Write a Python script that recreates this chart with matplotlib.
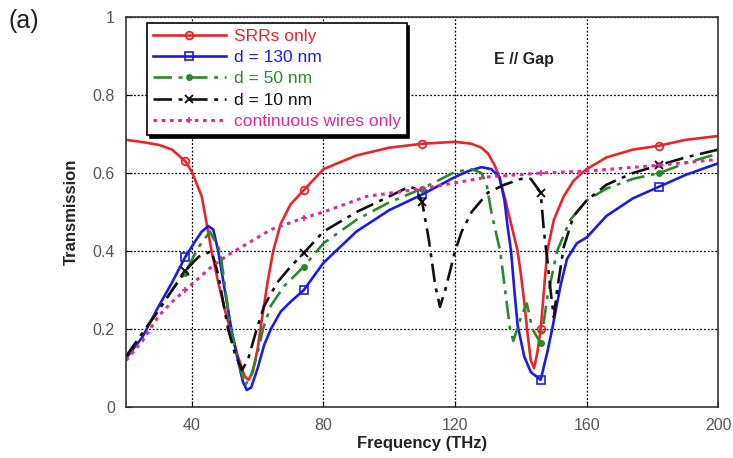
import numpy as np
import matplotlib
matplotlib.use("Agg")
import matplotlib.pyplot as plt

plt.rcParams["font.family"] = ["Liberation Sans", "DejaVu Sans"]

# Values (frequency in THz, transmission)
f_srr = [20, 26, 30, 34, 38, 40, 43, 46, 48, 50, 51.6, 54, 56, 57.2, 58.5, 60, 61, 63, 64.7, 67, 70, 74,
         80, 90, 100, 110, 120, 125, 128, 130, 132, 133, 135, 137, 139, 140, 141, 142, 143, 144, 145, 146,
         147, 148, 150, 153, 156, 158.5, 160, 166, 174, 182, 190, 200]
t_srr = [0.685, 0.678, 0.672, 0.66, 0.63, 0.603, 0.54, 0.40, 0.32, 0.25, 0.20, 0.13, 0.08, 0.07, 0.09, 0.15,
         0.21, 0.32, 0.40, 0.47, 0.52, 0.556, 0.61, 0.645, 0.665, 0.675, 0.68, 0.675, 0.665, 0.65, 0.62, 0.60,
         0.54, 0.47, 0.40, 0.34, 0.27, 0.19, 0.12, 0.10, 0.14, 0.20, 0.30, 0.40, 0.48, 0.54, 0.58, 0.60, 0.61,
         0.64, 0.66, 0.67, 0.685, 0.695]

f_130 = [20, 25, 30, 34, 38, 41, 43, 45, 46.5, 48, 50, 52, 54, 55.5, 56.7, 58, 60, 62, 64, 67, 70, 74, 80,
         90, 100, 110, 120, 124, 128, 131, 133.5, 135, 136, 137, 138, 139, 141, 143, 146, 148, 149.5, 152,
         154, 157, 160, 166, 174, 182, 190, 200]
t_130 = [0.125, 0.18, 0.26, 0.32, 0.385, 0.425, 0.45, 0.464, 0.455, 0.40, 0.30, 0.20, 0.12, 0.065, 0.044,
         0.05, 0.10, 0.16, 0.20, 0.245, 0.27, 0.30, 0.37, 0.45, 0.505, 0.545, 0.59, 0.605, 0.615, 0.61, 0.59,
         0.53, 0.46, 0.40, 0.30, 0.21, 0.13, 0.09, 0.07, 0.14, 0.20, 0.31, 0.38, 0.42, 0.435, 0.49, 0.535,
         0.565, 0.595, 0.625]

f_50 = [20, 25, 30, 34, 38, 42, 45.5, 48.6, 51.8, 54, 56.2, 58, 60, 61.6, 64, 68, 74, 80, 90, 100, 110,
        120, 125, 128, 129.6, 131, 133.7, 136.7, 137.7, 140, 141.8, 143.5, 146, 148, 151, 155, 160, 166,
        174, 182, 190, 200]
t_50 = [0.13, 0.19, 0.25, 0.30, 0.345, 0.41, 0.45, 0.40, 0.20, 0.12, 0.056, 0.08, 0.14, 0.20, 0.26, 0.31,
        0.36, 0.42, 0.48, 0.525, 0.56, 0.603, 0.61, 0.60, 0.57, 0.50, 0.40, 0.20, 0.17, 0.23, 0.266, 0.20,
        0.164, 0.28, 0.40, 0.48, 0.53, 0.56, 0.585, 0.60, 0.625, 0.65]

f_10 = [20, 25, 30, 34, 38, 42, 46, 48, 51, 53, 55.2, 57, 59.7, 62, 66, 70, 74, 80, 90, 100, 106, 108,
        110, 112, 114, 115.4, 117, 120, 122, 125, 130, 135, 140, 143, 146, 147, 148, 149, 150, 151, 153,
        156, 160, 166, 174, 182, 190, 200]
t_10 = [0.13, 0.19, 0.25, 0.30, 0.35, 0.385, 0.40, 0.34, 0.20, 0.14, 0.095, 0.12, 0.20, 0.26, 0.32, 0.36,
        0.395, 0.45, 0.50, 0.54, 0.565, 0.56, 0.525, 0.43, 0.31, 0.257, 0.30, 0.40, 0.45, 0.50, 0.55, 0.57,
        0.585, 0.585, 0.55, 0.45, 0.38, 0.30, 0.23, 0.30, 0.41, 0.49, 0.53, 0.57, 0.60, 0.62, 0.64, 0.66]

f_wire = [20, 25, 30, 34, 38, 42, 46, 51, 56, 64, 74, 80, 93, 110, 120, 130, 146, 160, 182, 200]
t_wire = [0.12, 0.17, 0.235, 0.27, 0.30, 0.33, 0.36, 0.39, 0.415, 0.455, 0.485, 0.50, 0.54, 0.56, 0.575,
          0.59, 0.60, 0.605, 0.62, 0.635]

marker_f = [38, 74, 110, 146, 182]

labels = ["SRRs only", "d = 130 nm", "d = 50 nm", "d = 10 nm", "continuous wires only"]


def marks(f):
    return [i for i, v in enumerate(f) if v in marker_f]


fig = plt.figure(figsize=(7.33, 4.58), dpi=100)
ax = fig.add_axes([0.172, 0.111, 0.808, 0.852])

ax.plot(f_srr, t_srr, color="#e8262a", lw=1.9, ls="-", marker="o", ms=5.5, mfc="none", mew=1.3,
        markevery=marks(f_srr), label=labels[0])
ax.plot(f_130, t_130, color="#1c1ce0", lw=1.9, ls="-", marker="s", ms=5.5, mfc="none", mew=1.2,
        markevery=marks(f_130), label=labels[1])
ax.plot(f_50, t_50, color="#2a8a2a", lw=1.9, ls=(0, (7, 2.5, 1.5, 2.5)), marker="o", ms=4,
        markevery=marks(f_50), label=labels[2])
ax.plot(f_10, t_10, color="#111111", lw=1.9, ls=(0, (7, 2.5, 1.5, 2.5)), marker="x", ms=6, mew=1.4,
        markevery=marks(f_10), label=labels[3])
ax.plot(f_wire, t_wire, color="#e02a9a", lw=2.2, ls=(0, (1.2, 1.5)), marker="+", ms=5, mew=1.2,
        markevery=marks(f_wire), label=labels[4])

ax.set_xlim(20, 200)
ax.set_ylim(0, 1)
ax.set_xticks([40, 80, 120, 160, 200])
ax.set_yticks([0, 0.2, 0.4, 0.6, 0.8, 1])
ax.set_yticklabels(["0", "0.2", "0.4", "0.6", "0.8", "1"])
ax.tick_params(direction="in", labelsize=11.5, labelcolor="#555555", length=4, pad=8)
ax.grid(True, color="black", ls=(0, (1.5, 1.5)), lw=0.9)
for s in ax.spines.values():
    s.set_linewidth(1.2)
    s.set_color("#333333")

ax.set_xlabel("Frequency (THz)", fontsize=12, fontweight="bold", color="#222222", labelpad=2)
ax.set_ylabel("Transmission", fontsize=12, fontweight="bold", color="#222222", labelpad=10)

ax.text(141, 0.89, "E // Gap", fontsize=11.5, fontweight="bold", color="#222222", ha="center", va="center")
fig.text(0.012, 0.955, "(a)", fontsize=18, color="#222222", va="center")

leg = ax.legend(loc="upper left", bbox_to_anchor=(0.035, 0.985), borderaxespad=0, fontsize=12.5,
                labelcolor="linecolor", handlelength=4.2, handletextpad=0.45, labelspacing=0.35,
                borderpad=0.35, fancybox=False, framealpha=1, edgecolor="black",
                shadow={"color": "black", "alpha": 1, "ox": 2, "oy": -2})
leg.get_frame().set_linewidth(1.2)

fig.savefig("out.png", dpi=100)
